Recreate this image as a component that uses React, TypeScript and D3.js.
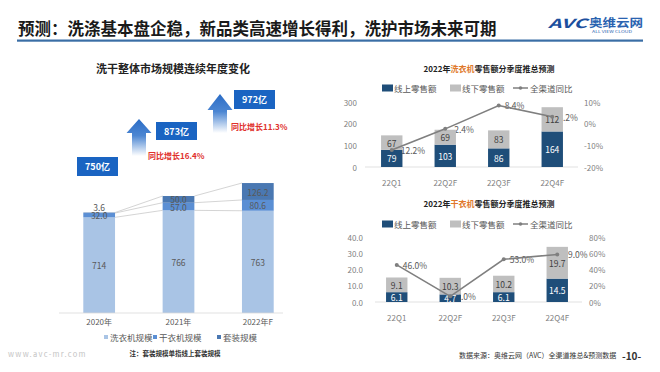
import React from 'react';
import * as d3 from 'd3';

// left chart: yearly market size (亿元)
const years = ['2020年', '2021年', '2022年F'];
const washerSize = [714, 766, 763];
const dryerSize = [32.0, 57.0, 80.6];
const setSize = [3.6, 50.0, 126.2];
const totalLabels = ['750亿', '873亿', '972亿'];
const growthLabels = ['同比增长16.4%', '同比增长11.3%'];

// right charts: quarterly retail
const quarters = ['22Q1', '22Q2F', '22Q3F', '22Q4F'];
const washOnline = [79, 103, 86, 164];
const washOffline = [67, 69, 83, 112];
const washYoy = [-0.122, -0.024, 0.084, 0.032];
const washLeftTicks = [0, 100, 200, 300];
const washRightTicks = [-0.2, -0.1, 0, 0.1];

const dryOnline = [6.1, 4.7, 6.1, 14.5];
const dryOffline = [9.1, 10.3, 10.2, 19.7];
const dryYoy = [0.46, 0.07, 0.53, 0.59];
const dryLeftTicks = [0, 10, 20, 30, 40];
const dryRightTicks = [0, 0.2, 0.4, 0.6, 0.8];

const FONT = '"Noto Sans CJK SC", "Noto Sans", sans-serif';
const NAVY = '#1f4e79';
const GREY_BAR = '#bfbfbf';
const LINE = '#7f7f7f';
const TXT = '#595959';

const pct = (v: number) => `${Math.round(v * 100)}%`;
const pct1 = (v: number) => `${(v * 100).toFixed(1)}%`;

type QProps = {
  product: string;
  online: number[];
  offline: number[];
  yoy: number[];
  leftTicks: number[];
  rightTicks: number[];
  leftFmt: (v: number) => string;
  valFmt: (v: number) => string;
  titleY: number;
  legendY: number;
  top: number;
  bottom: number;
  x0: number;
  x1: number;
  axisX0: number;
  axisX1: number;
  leftLabelX: number;
  rightLabelX: number;
};

const QuarterChart = (p: QProps) => {
  const x = d3.scaleBand().domain(quarters).range([p.x0, p.x1]).paddingInner(0.6).paddingOuter(0.3);
  const yL = d3.scaleLinear().domain(d3.extent(p.leftTicks) as [number, number]).range([p.bottom, p.top]);
  const yR = d3.scaleLinear().domain(d3.extent(p.rightTicks) as [number, number]).range([p.bottom, p.top]);
  const bw = x.bandwidth();
  const cx = (q: string) => (x(q) as number) + bw / 2;
  const pts: [number, number][] = quarters.map((q, i) => [cx(q), yR(p.yoy[i])]);
  const line = d3.line()(pts) as string;
  return (
    <g fontFamily={FONT}>
      <text x={489} y={p.titleY} textAnchor="middle" dominantBaseline="central" fontSize={8} fontWeight="bold" fill="#222">
        2022年<tspan fill="#e0782a">{p.product}</tspan>零售额分季度推总预测
      </text>
      <g fontSize={8.5} fill={TXT}>
        <rect x={382} y={p.legendY - 3.5} width={11} height={7} fill={NAVY} />
        <text x={394} y={p.legendY} dominantBaseline="central">线上零售额</text>
        <rect x={450} y={p.legendY - 3.5} width={11} height={7} fill={GREY_BAR} />
        <text x={462} y={p.legendY} dominantBaseline="central">线下零售额</text>
        <line x1={513} x2={528} y1={p.legendY} y2={p.legendY} stroke={LINE} strokeWidth={1.5} />
        <circle cx={520.5} cy={p.legendY} r={1.8} fill={LINE} />
        <text x={530} y={p.legendY} dominantBaseline="central">全渠道同比</text>
      </g>
      <g fontSize={8} fill="#7f7f7f">
        {p.leftTicks.map(t => (
          <text key={t} x={p.leftLabelX} y={yL(t)} textAnchor="end" dominantBaseline="central">{p.leftFmt(t)}</text>
        ))}
        {p.rightTicks.map(t => (
          <text key={t} x={p.rightLabelX} y={yR(t)} dominantBaseline="central">{pct(t)}</text>
        ))}
        {quarters.map(q => (
          <text key={q} x={cx(q)} y={p.bottom + 15} textAnchor="middle" dominantBaseline="central">{q}</text>
        ))}
      </g>
      <line x1={p.axisX0} x2={p.axisX1} y1={p.bottom} y2={p.bottom} stroke="#d9d9d9" strokeWidth={0.8} />
      {/* line labels sit under the bars */}
      <g fontSize={8.5} fill={TXT}>
        {pts.map((pt, i) => (
          <text key={i} x={pt[0] + 6} y={pt[1]} dominantBaseline="central">{pct1(p.yoy[i])}</text>
        ))}
      </g>
      {quarters.map((q, i) => {
        const xb = x(q) as number;
        const on = p.online[i];
        const off = p.offline[i];
        return (
          <g key={q} fontSize={8.5}>
            <rect x={xb} y={yL(on)} width={bw} height={p.bottom - yL(on)} fill={NAVY} />
            <rect x={xb} y={yL(on + off)} width={bw} height={yL(on) - yL(on + off)} fill={GREY_BAR} />
            <text x={cx(q)} y={(yL(0) + yL(on)) / 2} textAnchor="middle" dominantBaseline="central" fill="#fff">{p.valFmt(on)}</text>
            <text x={cx(q)} y={(yL(on) + yL(on + off)) / 2} textAnchor="middle" dominantBaseline="central" fill="#404040">{p.valFmt(off)}</text>
          </g>
        );
      })}
      <path d={line} fill="none" stroke={LINE} strokeWidth={1.6} />
      {pts.map((pt, i) => (
        <circle key={i} cx={pt[0]} cy={pt[1]} r={2} fill={LINE} />
      ))}
    </g>
  );
};

// decorative arrows between the yearly totals
const arrows = [
  { tip: 119, cx: 139, base: 133, end: 156 },
  { tip: 94, cx: 220, base: 110, end: 133 },
];
const boxes = [
  { x: 77, y: 157, w: 41, h: 19 },
  { x: 156, y: 122, w: 41, h: 18 },
  { x: 234, y: 90, w: 41, h: 19 },
];
const growthPos = [
  { x: 148, y: 155 },
  { x: 231, y: 126 },
];

const SizeChart = () => {
  const x = d3.scaleBand().domain(years).range([59.5, 297.5]).paddingInner(0.6).paddingOuter(0.3);
  const y = d3.scaleLinear().domain([0, 1000]).range([313, 179]);
  const bw = x.bandwidth();
  const c1 = washerSize;
  const c2 = washerSize.map((v, i) => v + dryerSize[i]);
  const c3 = c2.map((v, i) => v + setSize[i]);
  const cx = (yr: string) => (x(yr) as number) + bw / 2;
  return (
    <g fontFamily={FONT}>
      <defs>
        <linearGradient id="arrowGrad" x1="0" y1="0" x2="0" y2="1">
          <stop offset="0" stopColor="#2a6cc6" />
          <stop offset="0.45" stopColor="#4c86d2" />
          <stop offset="1" stopColor="#ffffff" />
        </linearGradient>
      </defs>
      <text x={173} y={68} textAnchor="middle" dominantBaseline="central" fontSize={11} fontWeight="bold" fill="#222">
        洗干整体市场规模连续年度变化
      </text>
      {arrows.map((a, i) => (
        <path
          key={i}
          d={`M${a.cx},${a.tip} L${a.cx + 12.5},${a.base} L${a.cx + 7},${a.base} L${a.cx + 7},${a.end} L${a.cx - 7},${a.end} L${a.cx - 7},${a.base} L${a.cx - 12.5},${a.base} Z`}
          fill="url(#arrowGrad)"
        />
      ))}
      {boxes.map((b, i) => (
        <g key={i}>
          <rect x={b.x} y={b.y} width={b.w} height={b.h} fill="#1a64c2" />
          <text x={b.x + b.w / 2} y={b.y + b.h / 2} textAnchor="middle" dominantBaseline="central" fontSize={9} fontWeight="bold" fill="#fff">
            {totalLabels[i]}
          </text>
        </g>
      ))}
      {growthPos.map((g, i) => (
        <text key={i} x={g.x} y={g.y} dominantBaseline="central" fontSize={8} fontWeight="bold" fill="#e0302c">
          {growthLabels[i]}
        </text>
      ))}
      {/* series lines */}
      {[c1, c2, c3].map((c, s) => (
        <g key={s}>
          {years.slice(0, -1).map((yr, i) => (
            <line
              key={yr}
              x1={(x(yr) as number) + bw}
              y1={y(c[i])}
              x2={x(years[i + 1]) as number}
              y2={y(c[i + 1])}
              stroke="#c9c9c9"
              strokeWidth={0.8}
            />
          ))}
        </g>
      ))}
      {years.map((yr, i) => {
        const xb = x(yr) as number;
        return (
          <g key={yr}>
            <rect x={xb} y={y(c1[i])} width={bw} height={y(0) - y(c1[i])} fill="#a9c4e5" />
            <rect x={xb} y={y(c2[i])} width={bw} height={y(c1[i]) - y(c2[i])} fill="#5b8fd4" />
            <rect x={xb} y={y(c3[i])} width={bw} height={y(c2[i]) - y(c3[i])} fill="#4a78b2" />
          </g>
        );
      })}
      <line x1={59} x2={283} y1={313} y2={313} stroke="#d9d9d9" strokeWidth={0.8} />
      <g fontSize={8.5} fill={TXT} textAnchor="middle">
        {years.map((yr, i) => (
          <g key={yr}>
            <text x={cx(yr)} y={(y(0) + y(c1[i])) / 2} dominantBaseline="central">{washerSize[i]}</text>
            <text x={cx(yr)} y={(y(c1[i]) + y(c2[i])) / 2} dominantBaseline="central">{dryerSize[i].toFixed(1)}</text>
            <text
              x={cx(yr)}
              y={setSize[i] < 10 ? y(c3[i]) - 6 : (y(c2[i]) + y(c3[i])) / 2}
              dominantBaseline="central"
            >
              {setSize[i].toFixed(1)}
            </text>
            <text x={cx(yr)} y={321} dominantBaseline="central" fontSize={8}>{yr}</text>
          </g>
        ))}
      </g>
      <g fontSize={8.5} fill={TXT}>
        {[
          { x: 104, label: '洗衣机规模', c: '#a9c4e5' },
          { x: 153, label: '干衣机规模', c: '#5b8fd4' },
          { x: 217, label: '套装规模', c: '#4a78b2' },
        ].map(l => (
          <g key={l.label}>
            <rect x={l.x} y={335} width={4} height={4} fill={l.c} />
            <text x={l.x + 6} y={337} dominantBaseline="central">{l.label}</text>
          </g>
        ))}
      </g>
      <text x={175} y={353} textAnchor="middle" dominantBaseline="central" fontSize={6.5} fontWeight="bold" fill="#333">
        注：套装规模单指线上套装规模
      </text>
    </g>
  );
};

export default function App() {
  return (
    <svg width={660} height={372} style={{ position: 'absolute', left: 0, top: 0, background: '#fff' }}>
      <rect width={660} height={372} fill="#fff" />
      <text x={18} y={28} dominantBaseline="central" fontFamily={FONT} fontSize={16.5} fontWeight="bold" fill="#1a1a1a">
        预测：洗涤基本盘企稳，新品类高速增长得利，洗护市场未来可期
      </text>
      <rect x={17} y={39.5} width={626} height={2.2} fill="#3a6ea5" />
      <g fontFamily={FONT}>
        <text x={548} y={22.5} dominantBaseline="central" fontSize={12.5} fontWeight="bold" fontStyle="italic" fill="#1c4f9e" textLength={39} lengthAdjust="spacingAndGlyphs">
          AVC
        </text>
        <text x={589} y={22} dominantBaseline="central" fontSize={11} fontWeight="bold" fill="#2a63b0" textLength={54} lengthAdjust="spacingAndGlyphs">
          奥维云网
        </text>
        <text x={592} y={31} dominantBaseline="central" fontSize={3.5} fill="#2a63b0" textLength={40} lengthAdjust="spacingAndGlyphs">
          ALL VIEW CLOUD
        </text>
      </g>
      <SizeChart />
      <QuarterChart
        product="洗衣机"
        online={washOnline}
        offline={washOffline}
        yoy={washYoy}
        leftTicks={washLeftTicks}
        rightTicks={washRightTicks}
        leftFmt={v => `${v}`}
        valFmt={v => `${v}`}
        titleY={68}
        legendY={88}
        top={102}
        bottom={167}
        x0={365}
        x1={579}
        axisX0={365}
        axisX1={578}
        leftLabelX={357}
        rightLabelX={584}
      />
      <QuarterChart
        product="干衣机"
        online={dryOnline}
        offline={dryOffline}
        yoy={dryYoy}
        leftTicks={dryLeftTicks}
        rightTicks={dryRightTicks}
        leftFmt={v => v.toFixed(1)}
        valFmt={v => v.toFixed(1)}
        titleY={203}
        legendY={224}
        top={237.5}
        bottom={302}
        x0={370}
        x1={584}
        axisX0={375}
        axisX1={582}
        leftLabelX={363}
        rightLabelX={589}
      />
      <g fontFamily={FONT}>
        <text x={8} y={353} dominantBaseline="central" fontSize={7.5} fill="#c4c4c4" letterSpacing={1.3}>
          www.avc-mr.com
        </text>
        <text x={459} y={355} dominantBaseline="central" fontSize={7} fill="#333">
          数据来源：奥维云网（AVC）全渠道推总&amp;预测数据
        </text>
        <text x={622} y={355} dominantBaseline="central" fontSize={10} fontWeight="bold" fill="#333">
          -10-
        </text>
      </g>
    </svg>
  );
}
